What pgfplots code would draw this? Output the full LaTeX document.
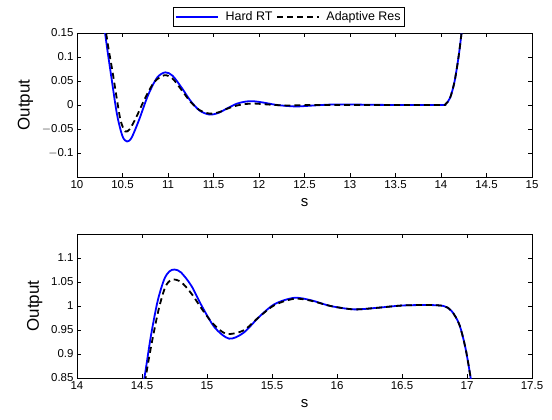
\documentclass[border=0pt]{standalone}
\usepackage{pgfplots}
\pgfplotsset{compat=1.18}
\usepackage{fontspec}
\setmainfont{Liberation Sans}
\begin{document}
\begin{tikzpicture}
\pgfplotsset{
	every axis/.append style={
		scale only axis,
		width=455bp, height=144bp,
		tick align=inside,
		xtick pos=both, ytick pos=both,
		major tick length=4bp,
		tick style={black, line width=0.5pt},
		axis line style={line width=0.6pt},
		ticklabel style={font=\fontsize{11.5}{12}\selectfont},
		/pgf/number format/assume math mode=true,
		/pgf/number format/.cd, fixed, 1000 sep={},
		/pgfplots/.cd,
		xlabel={s},
		xlabel style={font=\fontsize{15}{16}\selectfont, yshift=-3bp},
		ylabel={Output},
		ylabel style={font=\fontsize{17}{18}\selectfont, yshift=2bp},
		clip=true,
	},
	hard/.style={blue, line width=1.8pt, smooth, tension=0.5},
	adapt/.style={black, line width=1.8pt, dash pattern=on 6pt off 4pt, smooth, tension=0.5},
}
\useasboundingbox (-77bp,33bp) rectangle (475bp,-387bp);
\begin{axis}[
	at={(0,0)}, anchor=north west,
	xmin=10, xmax=15, ymin=-0.15, ymax=0.15,
	xtick={10,10.5,...,15},
	ytick={-0.1,-0.05,0,0.05,0.1,0.15},
	yticklabels={$-$0.1,$-$0.05,0,0.05,0.1,0.15},
	legend columns=2,
	legend style={at={(axis description cs:0.466,1.111)}, anchor=center,
		font=\fontsize{12.5}{13}\selectfont, draw=black, line width=0.6pt,
		inner xsep=2bp, inner ysep=2bp,
		/tikz/every even column/.append style={column sep=2bp},
		/tikz/every odd column/.append style={column sep=5bp}},
	legend image post style={line width=2pt, sharp plot},
	legend image code/.code={\draw[#1] (0cm,0cm) -- (1.45cm,0cm);},
]
\addplot[hard] coordinates {
(10.28,0.19) (10.33,0.12) (10.38,0.055) (10.44,-0.02) (10.50,-0.065) (10.55,-0.076)
(10.60,-0.068) (10.68,-0.032) (10.78,0.02) (10.88,0.057) (10.97,0.068)
(11.05,0.061) (11.15,0.036) (11.25,0.008) (11.35,-0.012) (11.46,-0.02)
(11.56,-0.016) (11.66,-0.006) (11.76,0.003) (11.85,0.007) (11.93,0.008)
(12.05,0.005) (12.2,0.0) (12.4,-0.003) (12.6,-0.001) (12.8,0.001)
(13.0,0.001) (13.5,0.0) (14.0,0.0) (14.05,0.002) (14.1,0.015)
(14.15,0.05) (14.2,0.11) (14.25,0.19)
};
\addlegendentry{Hard RT}
\addplot[adapt] coordinates {
(10.29,0.19) (10.34,0.125) (10.39,0.07) (10.44,0.01) (10.48,-0.033) (10.53,-0.055)
(10.58,-0.05) (10.65,-0.026) (10.75,0.015) (10.85,0.048) (10.96,0.062)
(11.05,0.055) (11.15,0.031) (11.25,0.006) (11.35,-0.011) (11.46,-0.018)
(11.56,-0.015) (11.66,-0.007) (11.76,-0.001) (11.85,0.002) (11.95,0.003)
(12.1,0.001) (12.3,-0.001) (12.6,0.0) (13.0,0.0) (13.5,0.0)
(14.0,0.0) (14.05,0.002) (14.1,0.015) (14.15,0.05) (14.2,0.11) (14.25,0.19)
};
\addlegendentry{Adaptive Res}
\end{axis}
\begin{axis}[
	at={(0,-201bp)}, anchor=north west,
	xmin=14, xmax=17.5, ymin=0.85, ymax=1.15,
	xtick={14,14.5,...,17.5},
	ytick={0.85,0.9,0.95,1,1.05,1.1},
	yticklabels={0.85,0.9,0.95,1,1.05,1.1},
]
\addplot[hard] coordinates {
(14.49,0.80) (14.53,0.87) (14.57,0.94) (14.62,1.01) (14.67,1.055) (14.71,1.072)
(14.75,1.076) (14.80,1.07) (14.88,1.042) (14.96,1.0) (15.06,0.955)
(15.17,0.932) (15.28,0.944) (15.40,0.977) (15.52,1.004) (15.67,1.017)
(15.80,1.012) (15.95,1.0) (16.13,0.993) (16.3,0.996) (16.5,1.001)
(16.7,1.002) (16.82,1.0) (16.88,0.99) (16.94,0.962) (16.99,0.91)
(17.04,0.83) (17.06,0.79)
};
\addplot[adapt] coordinates {
(14.50,0.80) (14.54,0.87) (14.58,0.93) (14.63,0.995) (14.68,1.04) (14.73,1.055)
(14.80,1.05) (14.88,1.026) (14.96,0.994) (15.05,0.962) (15.15,0.942)
(15.28,0.949) (15.40,0.977) (15.52,1.002) (15.67,1.015) (15.80,1.011)
(15.95,1.0) (16.13,0.993) (16.3,0.996) (16.5,1.001) (16.7,1.002)
(16.82,1.0) (16.88,0.99) (16.94,0.962) (16.99,0.91) (17.04,0.83) (17.06,0.79)
};
\end{axis}
\end{tikzpicture}
\end{document}
